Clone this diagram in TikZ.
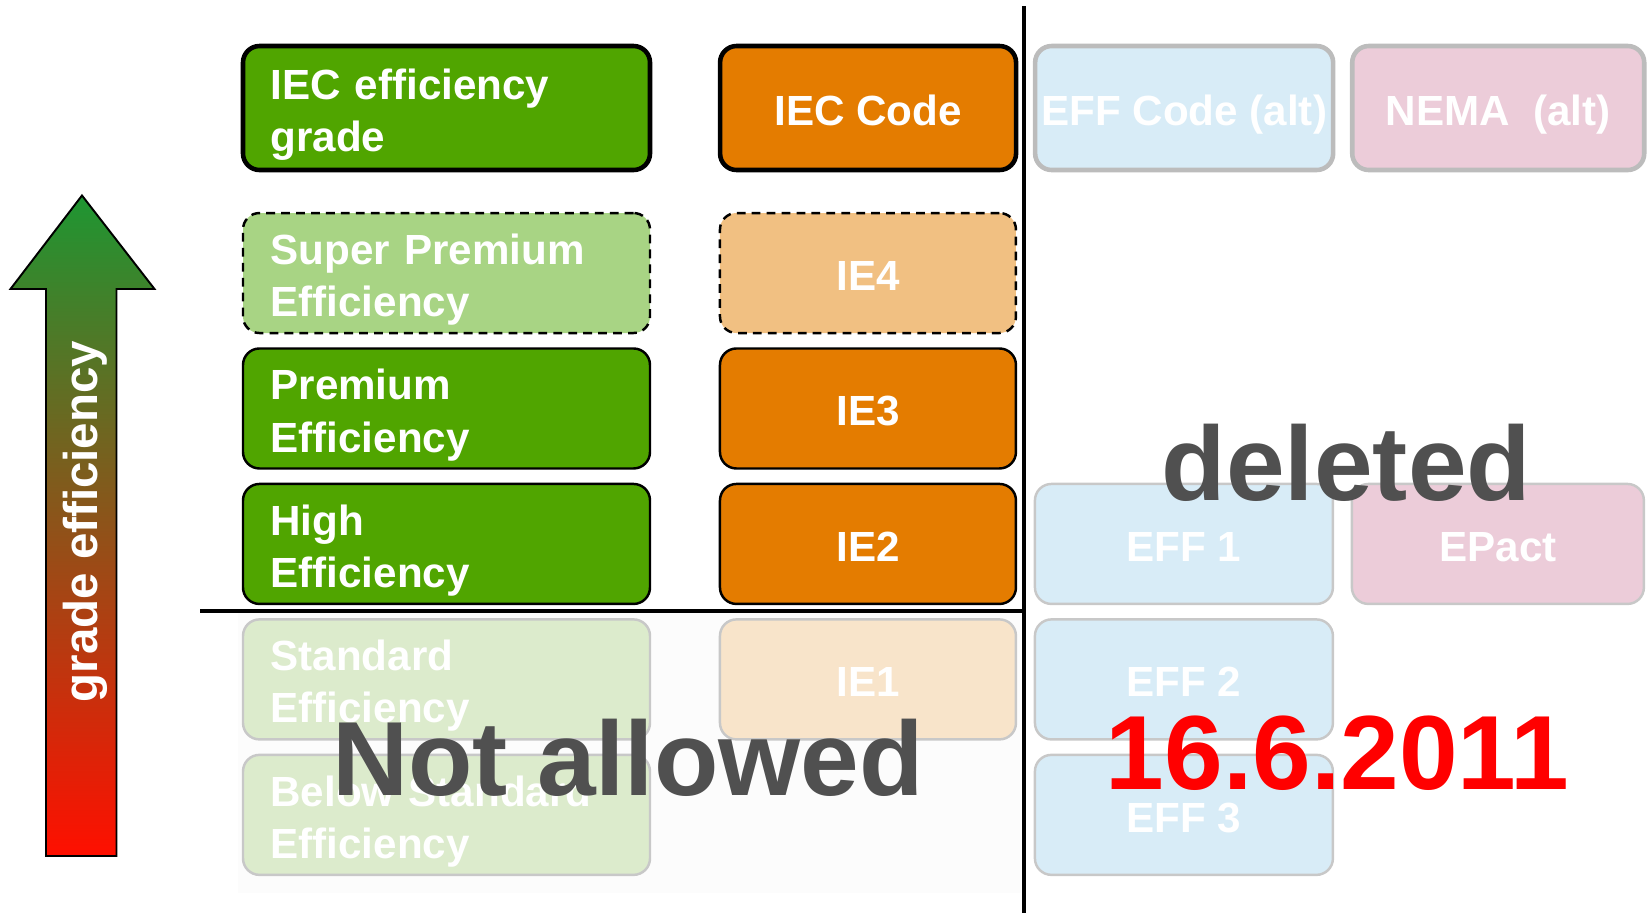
\documentclass[tikz,border=0pt]{standalone}
\usepackage{fontspec}
\setmainfont{Liberation Sans}
\usetikzlibrary{positioning}
\definecolor{cgreen}{RGB}{80, 165, 0}
\definecolor{cgreenlight}{RGB}{168, 212, 132}
\definecolor{cgreenpale}{RGB}{220, 235, 204}
\definecolor{corange}{RGB}{228, 124, 0}
\definecolor{corangelight}{RGB}{241, 192, 130}
\definecolor{corangepale}{RGB}{248, 228, 202}
\definecolor{cbluepale}{RGB}{216, 236, 247}
\definecolor{cpinkpale}{RGB}{236, 204, 217}
\definecolor{cgrayline}{RGB}{200, 200, 200}
\definecolor{cgrayhdr}{RGB}{188, 188, 188}
\definecolor{cdarkgray}{RGB}{80, 80, 80}
\definecolor{cred}{RGB}{255, 0, 0}
\definecolor{carrowtop}{RGB}{30, 150, 50}
\definecolor{carrowmid}{RGB}{190, 108, 38}
\definecolor{carrowbot}{RGB}{255, 15, 0}
\definecolor{cbackfaint}{RGB}{252, 252, 252}
\newcommand{\tstrut}{\rule{0pt}{1.03em}}
\tikzset{
	nodes={align=center},%
	box/.style={%
			rectangle,%
			rounded corners=0.33cm,%
			text=white,%
			font=\fontsize{24}{29.8}\selectfont\bfseries,%
			minimum height=2.4cm,%
			inner sep=0},%
	gradebox/.style={%
			box,%
			align=left,%
			text width=7.04cm,%
			inner xsep=0.55cm,%
			minimum width=8.14cm},%
	codebox/.style={%
			box,%
			text height=19.6pt,%
			text depth=0pt,%
			minimum width=5.92cm},%
	effbox/.style={%
			codebox,%
			minimum width=5.96cm,%
			fill=cbluepale,%
			draw=cgrayline,%
			line width=1.4pt},%
	gradehdr/.style={gradebox, fill=cgreen, draw=black, line width=2.6pt, minimum height=2.48cm},%
	codehdr/.style={codebox, fill=corange, draw=black, line width=2.6pt, minimum height=2.48cm},%
	althdr/.style={effbox, draw=cgrayhdr, line width=2.6pt, minimum height=2.48cm},%
	grade/.style={gradebox, fill=cgreen, draw=black, line width=1.4pt},%
	gradenew/.style={gradebox, fill=cgreenlight, draw=black, line width=1.4pt, dash pattern=on 5pt off 3.5pt},%
	gradeold/.style={gradebox, fill=cgreenpale, draw=cgrayline, line width=1.4pt},%
	code/.style={codebox, fill=corange, draw=black, line width=1.4pt},%
	codenew/.style={codebox, fill=corangelight, draw=black, line width=1.4pt, dash pattern=on 5pt off 3.5pt},%
	codeold/.style={codebox, fill=corangepale, draw=cgrayline, line width=1.4pt},%
	bigtext/.style={%
			text=cdarkgray,%
			font=\fontsize{60}{72}\selectfont\bfseries,%
			anchor=base},%
}

\begin{document}
\begin{tikzpicture}
	\useasboundingbox (0,0) rectangle (32.94,-18.26);
	\fill[cbackfaint] (4.76,-12.26) rectangle (20.42,-17.86);

	\shadedraw[top color=carrowtop, middle color=carrowmid, bottom color=carrowbot, line width=1.1pt] (0.92,-17.12) -- (0.92,-5.78) -- (0.21,-5.78) -- (1.64,-3.91) -- (3.09,-5.78) -- (2.33,-5.78) -- (2.33,-17.12) -- cycle;
	\node[rotate=90, text=white, font=\fontsize{27}{32}\selectfont\bfseries] (gradelabel) at (1.70,-10.43) {grade efficiency};

	\node[gradehdr] (hdrgrade) at (8.93,-2.16) {\tstrut IEC efficiency\\grade};
	\node[codehdr] (hdrcode) [right=1.31cm of hdrgrade] {IEC Code};
	\node[althdr] (hdreff) [right=0.29cm of hdrcode] {EFF Code (alt)};
	\node[althdr, fill=cpinkpale, minimum width=5.84cm] (hdrnema) [right=0.29cm of hdreff] {NEMA~~(alt)};

	\node[gradenew] (superprem) [below=0.79cm of hdrgrade] {\tstrut Super Premium\\Efficiency};
	\node[grade] (prem) [below=0.26cm of superprem] {\tstrut Premium\\Efficiency};
	\node[grade] (high) [below=0.26cm of prem] {\tstrut High\\Efficiency};
	\node[gradeold] (std) [below=0.26cm of high] {\tstrut Standard\\Efficiency};
	\node[gradeold] (belowstd) [below=0.26cm of std] {\tstrut Below Standard\\Efficiency};

	\node[codenew] (ie4) [right=1.35cm of superprem] {IE4};
	\node[code] (ie3) [right=1.35cm of prem] {IE3};
	\node[code] (ie2) [right=1.35cm of high] {IE2};
	\node[codeold] (ie1) [right=1.35cm of std] {IE1};

	\node[effbox] (eff1) [right=0.33cm of ie2] {EFF 1};
	\node[effbox, fill=cpinkpale, minimum width=5.84cm] (epact) [right=0.33cm of eff1] {EPact};
	\node[effbox] (eff2) [right=0.33cm of ie1] {EFF 2};
	\node[effbox] (eff3) [below=0.26cm of eff2] {EFF 3};

	\coordinate (vtop) at (20.48,-0.12);
	\coordinate (vbot) at (20.48,-18.26);
	\coordinate (hleft) at (4.0,-12.22);
	\draw[line width=2pt] (vtop) -- (vbot);
	\draw[line width=2pt] (hleft) -- (hleft -| vtop);

	\node[bigtext] (notallowed) at (12.56,-15.9) {Not allowed};
	\node[bigtext] (deleted) at (26.93,-10.0) {deleted};
	\node[bigtext, text=cred] (date) at (26.75,-15.78) {16.6.2011};
\end{tikzpicture}
\end{document}
